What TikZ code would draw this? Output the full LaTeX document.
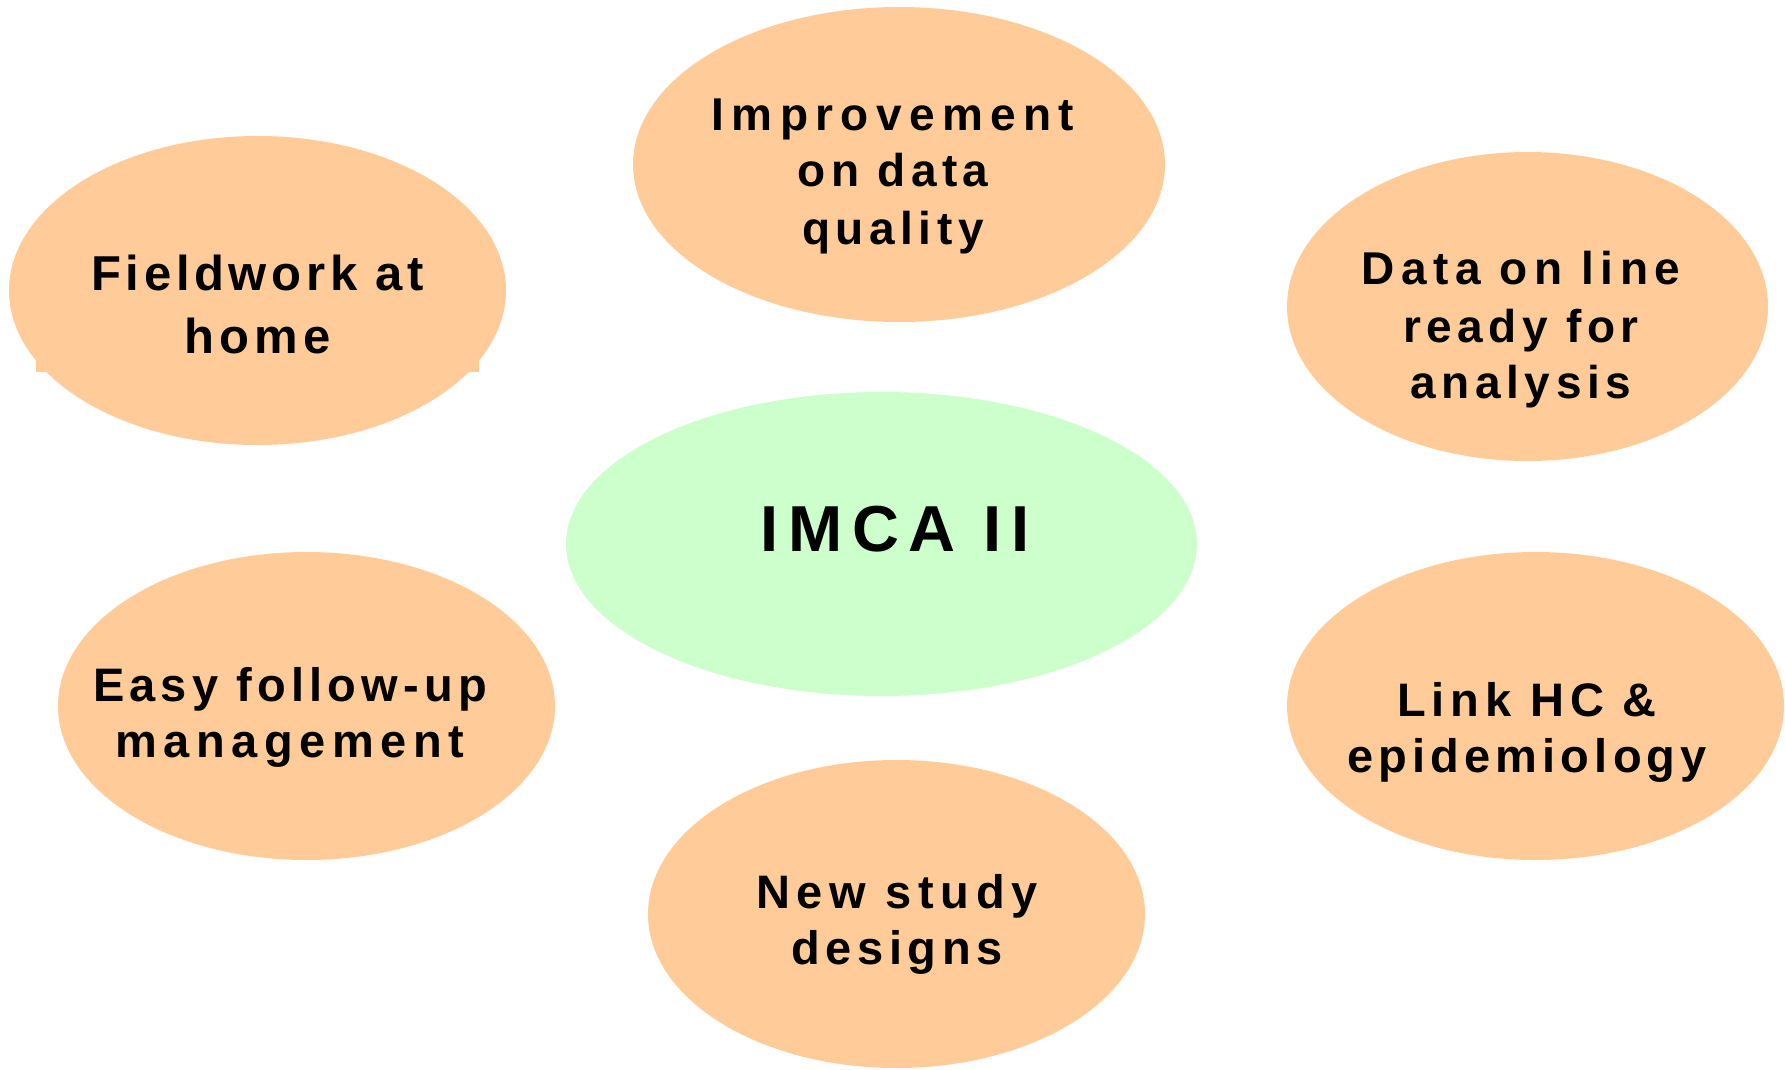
\documentclass[tikz,border=0pt]{standalone}
\usepackage{fontspec}
\setmainfont{Liberation Sans}[BoldFont={* Bold}]
\newfontfamily\diagfont{Liberation Sans Bold}
\usetikzlibrary{shapes.geometric}
\definecolor{peach}{HTML}{FFCC99}
\definecolor{mint}{HTML}{CCFFCC}
\tikzset{
  blob/.style={ellipse, fill=peach, draw=none, inner sep=0pt},
  hub/.style={ellipse, fill=mint, draw=none, inner sep=0pt},
  txt/.style 2 args={anchor=base, inner sep=0pt,
    font=\diagfont\addfontfeature{LetterSpace=#2}\fontsize{#1}{#1}\selectfont}
}
\begin{document}
\begin{tikzpicture}[x=1pt,y=-1pt]
\useasboundingbox (0,0) rectangle (1785,1069);
% ellipses
\node[blob, minimum width=497pt, minimum height=309pt] (fw) at (257.5,290.5) {};
\fill[peach] (36,360) rectangle (479,372);
\node[blob, minimum width=532pt, minimum height=315pt] (imp) at (899,164.5) {};
\node[blob, minimum width=481pt, minimum height=309pt] (dol) at (1527.5,306.5) {};
\node[hub, minimum width=631pt, minimum height=304pt] (imca) at (881.5,544) {};
\node[blob, minimum width=497pt, minimum height=308pt] (easy) at (306.5,706) {};
\node[blob, minimum width=497pt, minimum height=308pt] (link) at (1535.5,706) {};
\node[blob, minimum width=497pt, minimum height=308pt] (new) at (896.5,914) {};
% texts
\node[txt={49}{9.5}] (fw1) at (257.5,290) {Fieldwork at};
\node[txt={49}{11}] (fw2) at (257.5,353) {home};
\node[txt={46}{16}] (imp1) at (893,130) {Improvement};
\node[txt={46}{12}] (imp2) at (893,186) {on data};
\node[txt={46}{12}] (imp3) at (893,244) {quality};
\node[txt={46}{14}] (dol1) at (1521,284) {Data on line};
\node[txt={46}{12}] (dol2) at (1521,342) {ready for};
\node[txt={46}{12}] (dol3) at (1521,398) {analysis};
\node[txt={65}{15}] (imcat) at (895,551) {IMCA II};
\node[txt={47}{11}] (easy1) at (290,701) {Easy follow-up};
\node[txt={47}{14}] (easy2) at (290,757) {management};
\node[txt={47}{12.5}] (link1) at (1527,716) {Link HC \&};
\node[txt={47}{11}] (link2) at (1527,772) {epidemiology};
\node[txt={47}{14}] (new1) at (897,908) {New study};
\node[txt={47}{12}] (new2) at (897,964) {designs};
\end{tikzpicture}
\end{document}
